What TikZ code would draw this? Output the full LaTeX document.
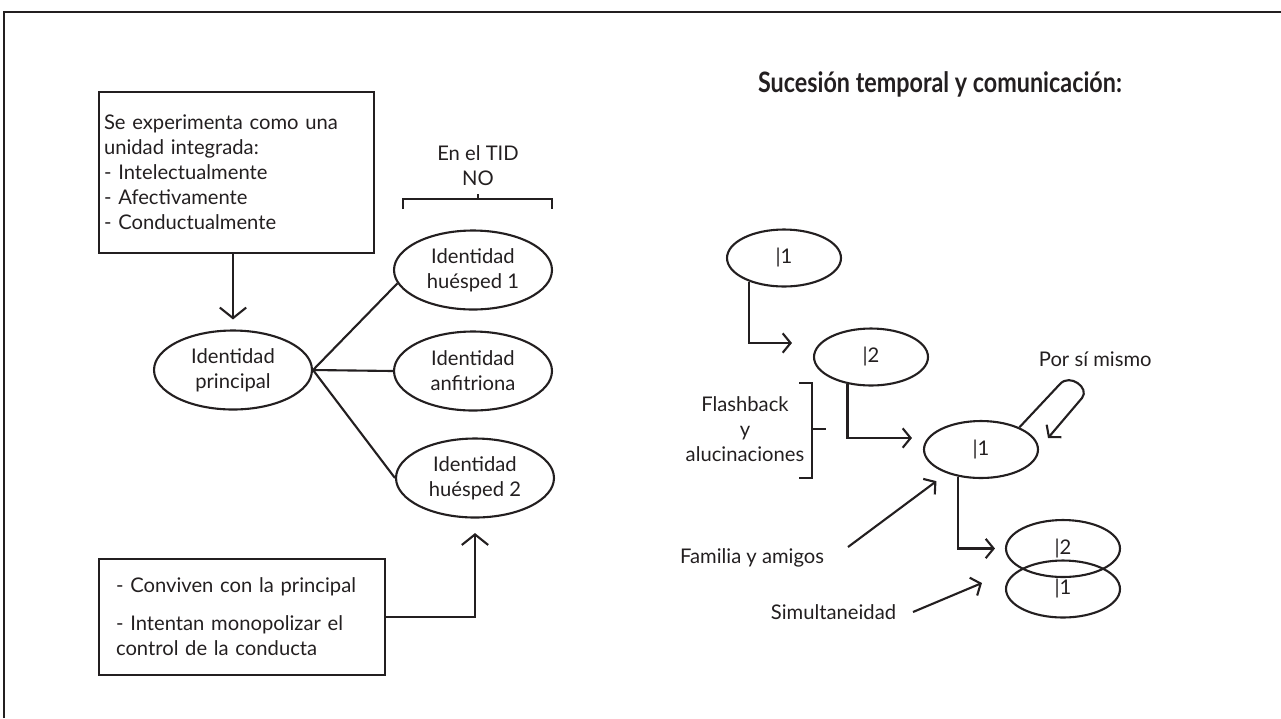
\documentclass[tikz,border=0pt]{standalone}
\usepackage{fontspec}
\usepackage{graphicx}
\setmainfont{Lato}
\usetikzlibrary{arrows.meta,positioning,shapes.geometric,calc}
\definecolor{tinta}{RGB}{35,31,32}

\begin{document}
\begin{tikzpicture}[x=0.02cm,y=-0.02cm,line width=1.2pt,color=tinta,font=\fontsize{11.5}{14.2}\selectfont,
  caja/.style={draw,rectangle,align=left,inner ysep=2pt},
  ovalo/.style={draw,ellipse,minimum width=3.16cm,minimum height=1.58cm,inner sep=1pt,align=center},
  ovalito/.style={draw,ellipse,minimum width=2.28cm,minimum height=1.14cm,inner sep=1pt},
  flecha/.style={-{Straight Barb[length=6pt,width=15pt]}},
  flechita/.style={-{Straight Barb[length=4.5pt,width=11pt]}},
  rotulo/.style={align=center}]
  \useasboundingbox (0,0) rectangle (1281,718);
  \draw[line width=1.6pt] (4,718) -- (4,12) -- (1281,12);

  \node[caja,text width=5.3cm,inner xsep=0.1cm,minimum height=3.22cm] (caja1) at (236.5,172.5) {Se experimenta como una\\unidad integrada:\\- Intelectualmente\\- Afectivamente\\- Conductualmente};
  \node[ovalo] (princ) at (233,370) {Identidad\\principal};
  \node[ovalo] (hues1) at (473,270) {Identidad\\huésped 1};
  \node[ovalo] (anfi) at (473,371) {Identidad\\anfitriona};
  \node[ovalo] (hues2) at (475,478) {Identidad\\huésped 2};
  \node[rotulo] (tid) at (478,166) {En el TID\\NO};
  \node[caja,text width=5.04cm,inner xsep=0.34cm,minimum height=2.32cm] (caja2) at (242,617) {- Conviven con la principal\\[0.26cm]- Intentan monopolizar el\\control de la conducta};

  \draw (403,209) -- (403,199) -- (552,199) -- (552,209) (478,199) -- (478,194);
  \draw[flecha] (caja1.south -| princ.north) -- ([yshift=0.2cm]princ.north);
  \draw (princ.east) -- (hues1.190) (princ.east) -- (anfi.west) (princ.east) -- (hues2.west);
  \draw[flecha] (caja2.east) -| ([yshift=-0.29cm]hues2.south);

  \node[font=\fontsize{16}{19}\selectfont\bfseries,anchor=west,inner sep=0pt] (titulo) at (757,84) {\scalebox{0.83}[1]{Sucesión temporal y comunicación:}};
  \node[ovalito] (unoa) at (784,258) {|1};
  \node[ovalito] (dosa) at (871,357) {|2};
  \node[ovalito] (unob) at (981,449.5) {|1};
  \node[ovalito] (dosb) at (1063,548.5) {|2};
  \node[ovalito] (unoc) at (1063,589) {|1};

  \draw[flechita] (unoa.214) |- ([xshift=-0.42cm,yshift=0.28cm]dosa.west);
  \draw[flechita] (dosa.229) |- ([xshift=-0.22cm,yshift=0.23cm]unob.west);
  \draw[flechita] (unob.230) |- ([xshift=-0.2cm]dosb.west);

  \node[rotulo] (flash) at (745,429) {Flashback\\y\\alucinaciones};
  \draw (799,383) -- (812,383) -- (812,478) -- (799,478) (812,429) -- (826,429);

  \node[anchor=west] (pors) at (1032,359) {Por sí mismo};
  \draw[flechita] (unob.30) -- (1060,384) .. controls (1070,373) and (1090,388) .. (1082,398) -- (1048,438);

  \node[anchor=east] (fam) at (831,558) {Familia y amigos};
  \draw[flechita,shorten >=0.26cm] ([xshift=0.34cm,yshift=0.22cm]fam.east) -- (unob.215);
  \node[anchor=east] (sim) at (903,612) {Simultaneidad};
  \draw[flechita] ([xshift=0.2cm]sim.east) -- ([xshift=-0.46cm,yshift=-0.69cm]dosb.west);
\end{tikzpicture}
\end{document}
